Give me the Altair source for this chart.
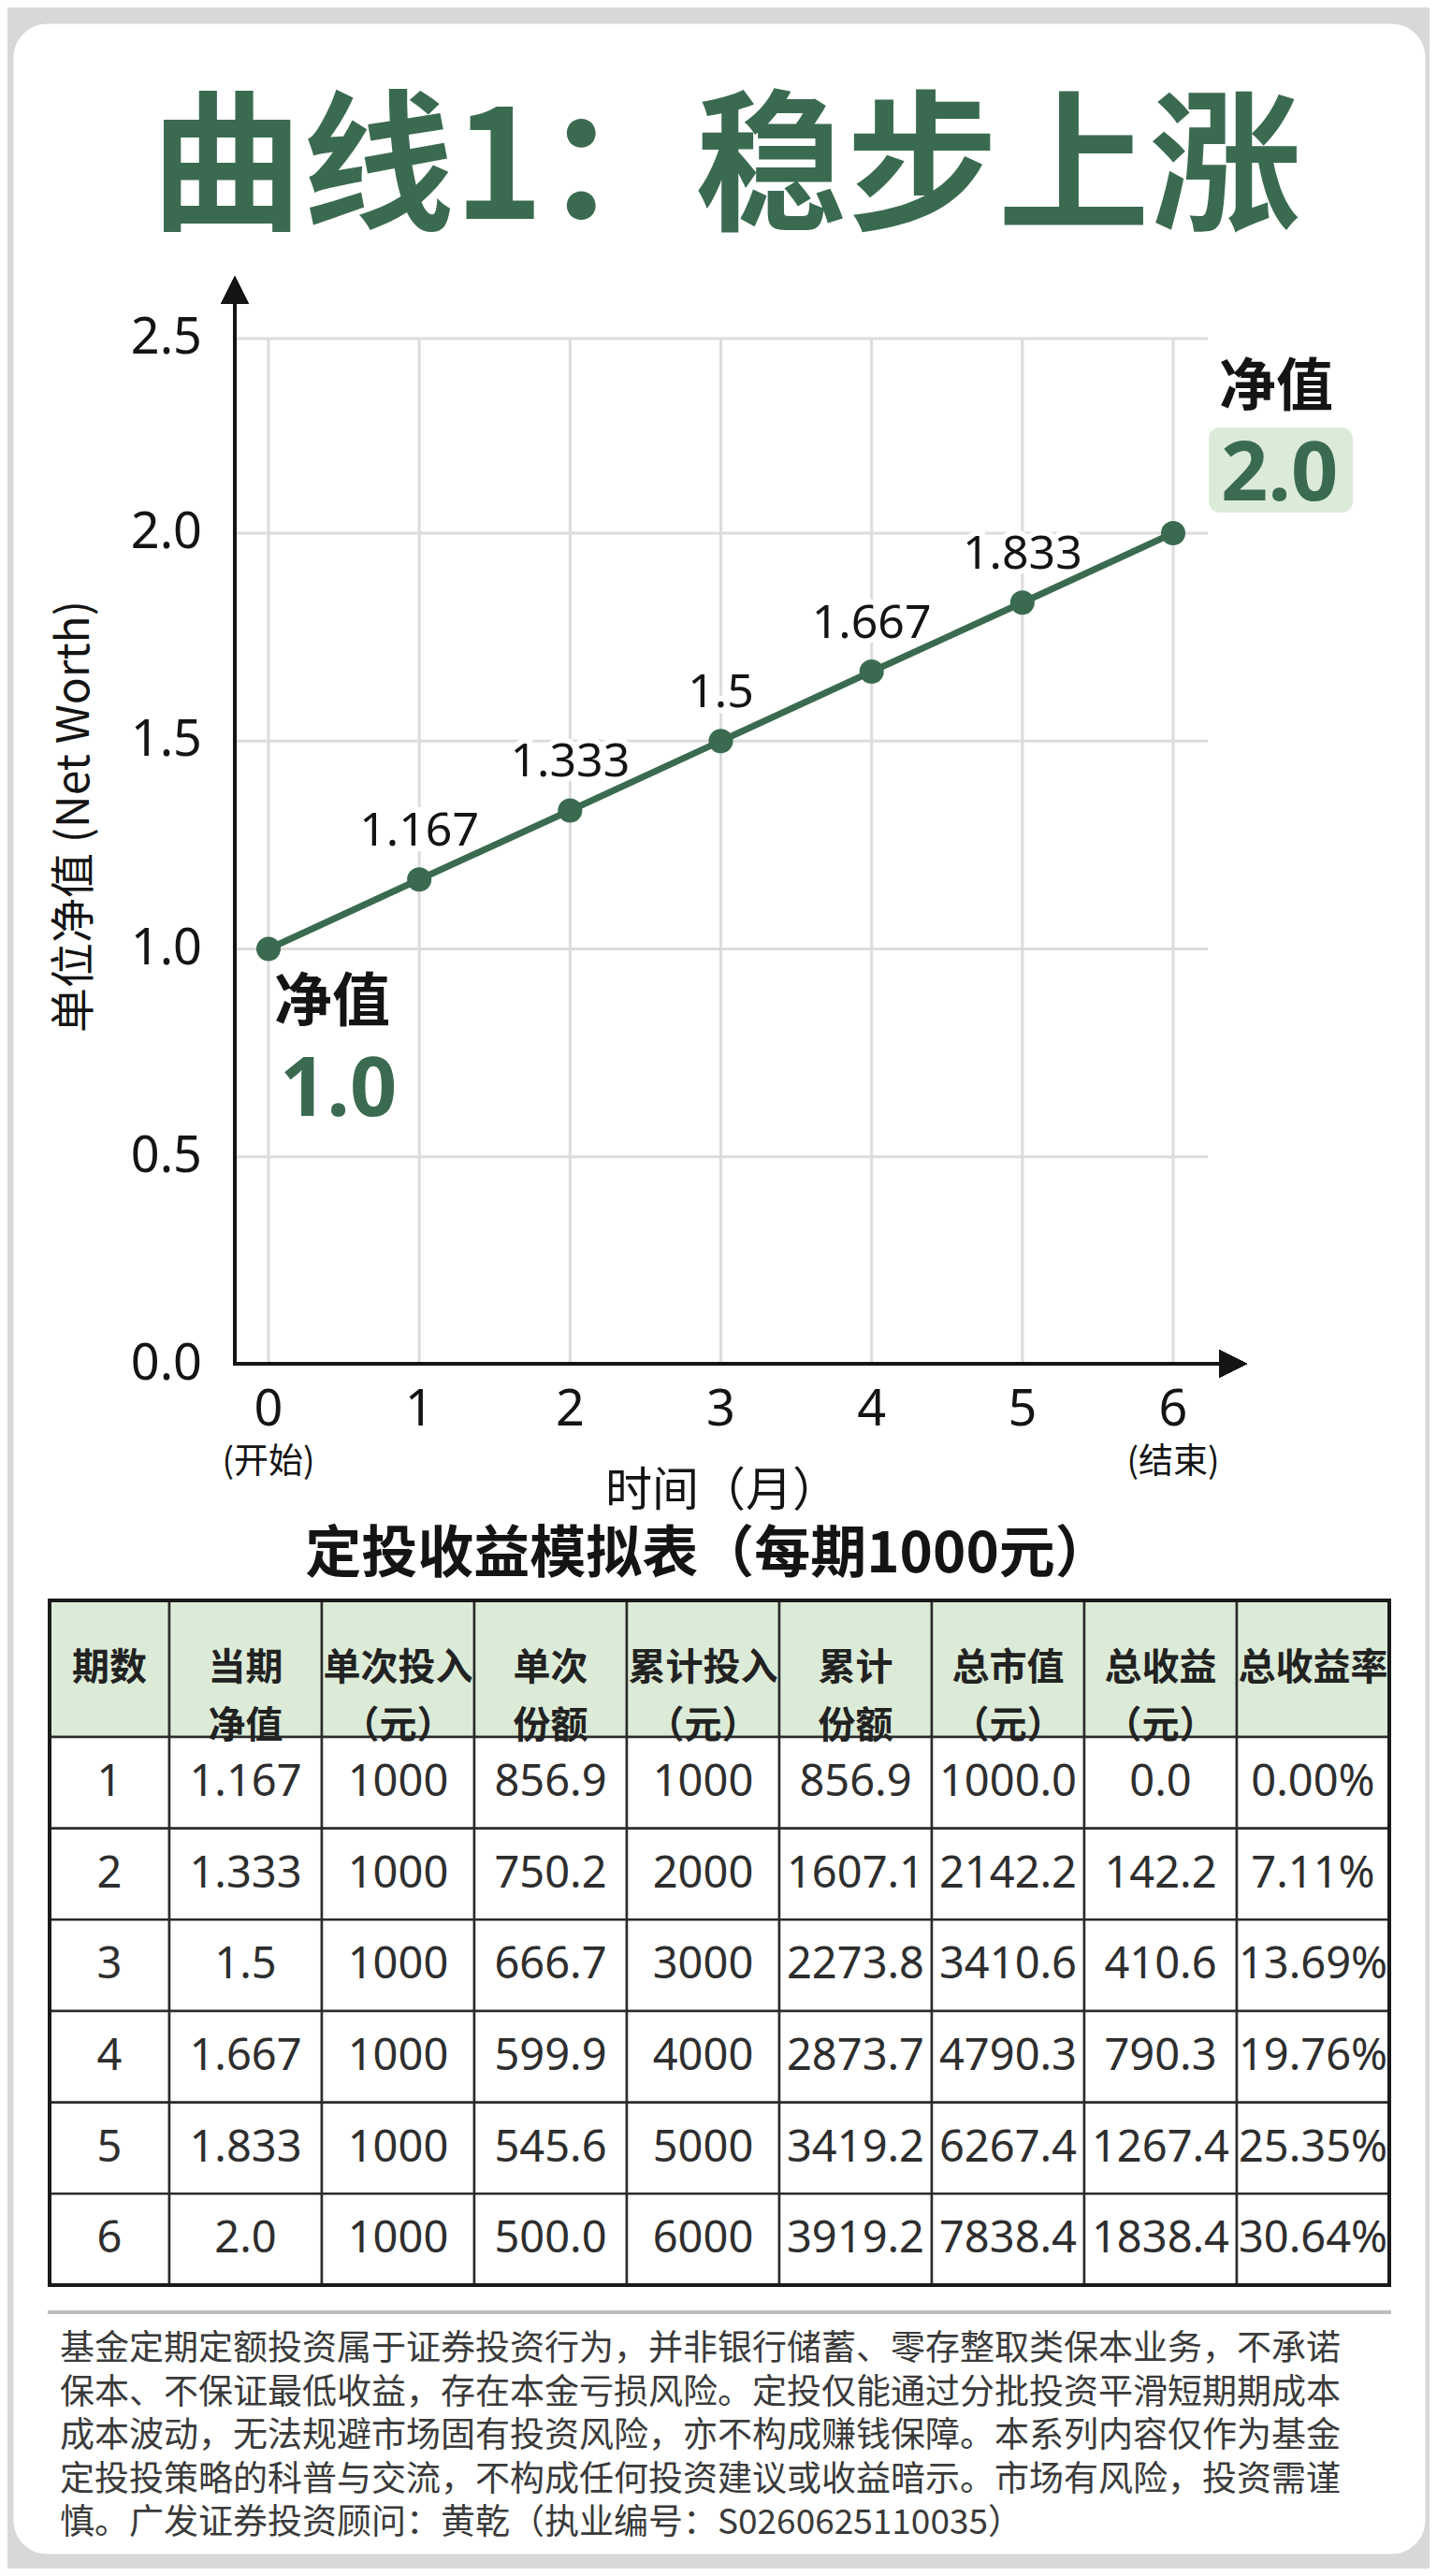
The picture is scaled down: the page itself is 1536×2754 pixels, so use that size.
"""Chart for 曲线1: steady rise, with the DCA simulation table below it."""

import pandas as pd
import altair as alt

# values
months = [0, 1, 2, 3, 4, 5, 6]
nav = [1.0, 1.167, 1.333, 1.5, 1.667, 1.833, 2.0]
y_ticks = [0.0, 0.5, 1.0, 1.5, 2.0, 2.5]
x_notes = ["(开始)", "", "", "", "", "", "(结束)"]

headers = [
    "期数",
    "当期\n净值",
    "单次投入\n（元）",
    "单次\n份额",
    "累计投入\n（元）",
    "累计\n份额",
    "总市值\n（元）",
    "总收益\n（元）",
    "总收益率",
]
period = [1, 2, 3, 4, 5, 6]
period_nav = [1.167, 1.333, 1.5, 1.667, 1.833, 2.0]
invest = [1000, 1000, 1000, 1000, 1000, 1000]
shares = [856.9, 750.2, 666.7, 599.9, 545.6, 500.0]
total_invest = [1000, 2000, 3000, 4000, 5000, 6000]
total_shares = [856.9, 1607.1, 2273.8, 2873.7, 3419.2, 3919.2]
market_value = [1000.0, 2142.2, 3410.6, 4790.3, 6267.4, 7838.4]
profit = [0.0, 142.2, 410.6, 790.3, 1267.4, 1838.4]
profit_rate = [0.00, 7.11, 13.69, 19.76, 25.35, 30.64]

title = "曲线1：稳步上涨"
table_title = "定投收益模拟表（每期1000元）"
disclaimer = [
    "基金定期定额投资属于证券投资行为，并非银行储蓄、零存整取类保本业务，不承诺",
    "保本、不保证最低收益，存在本金亏损风险。定投仅能通过分批投资平滑短期期成本",
    "成本波动，无法规避市场固有投资风险，亦不构成赚钱保障。本系列内容仅作为基金",
    "定投投策略的科普与交流，不构成任何投资建议或收益暗示。市场有风险，投资需谨",
    "慎。广发证券投资顾问：黄乾（执业编号：S0260625110035）",
]

# layout / style
GREEN = "#3a6b50"
INK = "#141414"
CJK = "Noto Sans CJK SC"
LAT = "Noto Sans"
W, H = 1509, 2705

XS = alt.Scale(domain=[0, 6], range=[273, 1240], nice=False, zero=False)
YS = alt.Scale(domain=[0, 2, 2.5], range=[1434, 545, 337], nice=False, zero=False)
XT = alt.Scale(domain=[0, 1, 9], range=[39, 167, 1471], nice=False, zero=False)
YT = alt.Scale(domain=[0, 1, 7], range=[1686, 1832, 2418], nice=False, zero=False)


def text_at(content, x, y, size, color=INK, weight="normal", font=CJK,
            align="center", baseline="middle", angle=0):
    return (
        alt.Chart(pd.DataFrame({"t": [content]}))
        .mark_text(fontSize=size, color=color, fontWeight=weight, font=font,
                   align=align, baseline=baseline, angle=angle)
        .encode(text="t:N", x=alt.value(x), y=alt.value(y))
    )


line_df = pd.DataFrame({"month": months, "nav": nav,
                        "label": [str(v) for v in nav], "note": x_notes})
tick_df = pd.DataFrame({"v": y_ticks})
X = alt.X("month:Q", scale=XS, axis=None)
Y = alt.Y("nav:Q", scale=YS, axis=None)
base = alt.Chart(line_df)

grid_v = base.mark_rule(color="#dcdcdc", strokeWidth=3).encode(
    x=X, y=alt.Y(datum=2.5, scale=YS, axis=None), y2=alt.Y2(datum=0.0)
)
grid_h = (
    alt.Chart(tick_df)
    .transform_filter("datum.v > 0")
    .mark_rule(color="#dcdcdc", strokeWidth=3)
    .encode(y=alt.Y("v:Q", scale=YS, axis=None), x=alt.value(237), x2=alt.value(1277))
)
y_axis = base.mark_rule(color=INK, strokeWidth=3.5).encode(
    x=alt.value(237), y=alt.value(296), y2=alt.value(1435)
)
x_axis = base.mark_rule(color=INK, strokeWidth=3.5).encode(
    x=alt.value(236), x2=alt.value(1295), y=alt.value(1433)
)
y_arrow = base.mark_point(shape="M0,-1L1,1L-1,1Z", filled=True, size=870,
                          color=INK, opacity=1).encode(x=alt.value(237), y=alt.value(285))
x_arrow = base.mark_point(shape="M-1,-1L1,0L-1,1Z", filled=True, size=900,
                          color=INK, opacity=1).encode(x=alt.value(1304), y=alt.value(1433))

y_labels = alt.Chart(tick_df).mark_text(
    font=LAT, fontSize=54, color=INK, align="right", baseline="middle"
).encode(y=alt.Y("v:Q", scale=YS, axis=None), x=alt.value(202),
         text=alt.Text("v:Q", format=".1f"))
x_labels = base.mark_text(font=LAT, fontSize=54, color=INK, baseline="alphabetic").encode(
    x=X, y=alt.value(1499), text=alt.Text("month:Q")
)
x_notes_t = base.mark_text(font=CJK, fontSize=37, color=INK, baseline="alphabetic").encode(
    x=X, y=alt.value(1550), text="note:N"
)
x_title = text_at("时间（月）", 758, 1570, 50)
y_title = text_at("单位净值 (Net Worth)", 67, 848, 48, angle=270)

line = base.mark_line(color=GREEN, strokeWidth=7).encode(x=X, y=Y)
dots = base.mark_circle(color=GREEN, size=680, opacity=1).encode(x=X, y=Y)
mid = base.transform_filter("datum.month > 0 && datum.month < 6")
halo = mid.mark_text(font=LAT, fontSize=50, stroke="white", strokeWidth=12,
                     baseline="alphabetic", dy=-36).encode(x=X, y=Y, text="label:N")
point_labels = mid.mark_text(font=LAT, fontSize=50, color=INK,
                             baseline="alphabetic", dy=-36).encode(x=X, y=Y, text="label:N")

start = base.transform_filter("datum.month == 0")
end = base.transform_filter("datum.month == 6")
start_word = start.mark_text(text="净值", font=CJK, fontSize=62, fontWeight="bold",
                             color=INK, align="left", baseline="alphabetic",
                             dx=6, dy=77).encode(x=X, y=Y)
start_value = start.mark_text(font=LAT, fontSize=88, fontWeight="bold", color=GREEN,
                              align="left", baseline="alphabetic",
                              dx=12, dy=178).encode(x=X, y=Y, text="label:N")
end_word = end.mark_text(text="净值", font=CJK, fontSize=61, fontWeight="bold",
                         color=INK, align="left", baseline="alphabetic",
                         dx=49, dy=-136).encode(x=X, y=Y)
end_box = end.mark_rect(color="#dceada", cornerRadius=12, xOffset=38, x2Offset=192,
                        yOffset=-113, y2Offset=-22).encode(
    x=X, x2=alt.X2("month"), y=Y, y2=alt.Y2("nav")
)
end_value = end.mark_text(font=LAT, fontSize=88, fontWeight="bold", color=GREEN,
                          align="left", baseline="alphabetic",
                          dx=51, dy=-35).encode(x=X, y=Y, text="label:N")

# table
rows = []
for c, h in enumerate(headers):
    rows.append({"c": c, "r": 0, "t": h})
for i in range(len(period)):
    cells = [
        str(period[i]), str(period_nav[i]), str(invest[i]), f"{shares[i]:.1f}",
        str(total_invest[i]), f"{total_shares[i]:.1f}", f"{market_value[i]:.1f}",
        f"{profit[i]:.1f}", f"{profit_rate[i]:.2f}%",
    ]
    for c, t in enumerate(cells):
        rows.append({"c": c, "r": i + 1, "t": t})
cell_df = pd.DataFrame(rows)
cell_df["c1"] = cell_df["c"] + 1
cell_df["r1"] = cell_df["r"] + 1
cell_df["cm"] = cell_df["c"] + 0.5
cell_df["rm"] = cell_df["r"] + 0.5
cells = alt.Chart(cell_df)

cell_rects = cells.mark_rect(stroke="#2b2b2b", strokeWidth=2.5).encode(
    x=alt.X("c:Q", scale=XT, axis=None), x2="c1",
    y=alt.Y("r:Q", scale=YT, axis=None), y2="r1",
    fill=alt.condition("datum.r == 0", alt.value("#dcebd7"), alt.value("white")),
)
table_frame = cells.mark_rect(filled=False, stroke="#1a1a1a", strokeWidth=4).encode(
    x=alt.X(datum=0, scale=XT, axis=None), x2=alt.X2(datum=9),
    y=alt.Y(datum=0, scale=YT, axis=None), y2=alt.Y2(datum=7),
)
head_text = cells.transform_filter("datum.r == 0").mark_text(
    font=CJK, fontSize=40, fontWeight="bold", color="#222222",
    lineBreak="\n", lineHeight=62, baseline="middle"
).encode(x=alt.X("cm:Q", scale=XT, axis=None), y=alt.Y("rm:Q", scale=YT, axis=None), text="t:N")
body_text = cells.transform_filter("datum.r > 0").mark_text(
    font=LAT, fontSize=47, color="#2e2e2e", baseline="middle"
).encode(x=alt.X("cm:Q", scale=XT, axis=None), y=alt.Y("rm:Q", scale=YT, axis=None), text="t:N")

table_head = text_at(table_title, 743, 1638, 60, weight="bold")

# disclaimer
note_df = pd.DataFrame({"i": list(range(len(disclaimer))), "t": disclaimer})
separator = base.mark_rule(color="#bdbdbd", strokeWidth=3).encode(
    x=alt.value(37), x2=alt.value(1473), y=alt.value(2447)
)
notes = alt.Chart(note_df).mark_text(
    font=CJK, fontSize=37, color="#3a3a3a", align="left", baseline="middle"
).encode(
    x=alt.value(50),
    y=alt.Y("i:Q", scale=alt.Scale(domain=[0, 4], range=[2487, 2673], nice=False, zero=False), axis=None),
    text="t:N",
)

headline = text_at(title, 762, 160, 162, color=GREEN, weight="bold")

chart = (
    alt.layer(
        headline,
        grid_v, grid_h, y_axis, x_axis, y_arrow, x_arrow,
        y_labels, x_labels, x_notes_t, x_title, y_title,
        line, dots, halo, point_labels,
        start_word, start_value, end_box, end_word, end_value,
        table_head, cell_rects, table_frame, head_text, body_text,
        separator, notes,
    )
    .resolve_scale(x="independent", y="independent")
    .properties(
        width=W,
        height=H,
        autosize=alt.AutoSizeParams(type="none"),
        padding={"left": 6, "top": 17, "right": 5, "bottom": 16},
        background="#d8d8d8",
    )
    .configure_view(fill="white", stroke="transparent", cornerRadius=36)
)

chart.save("out.html", embed_options={"renderer": "svg", "actions": False})
